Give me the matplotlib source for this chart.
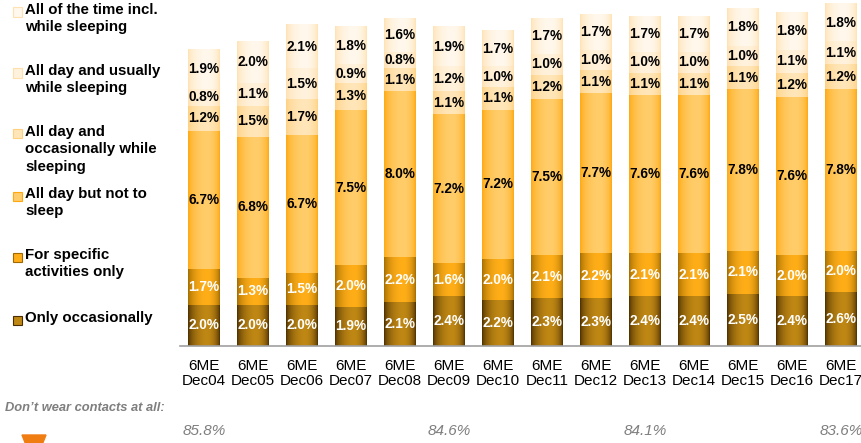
import matplotlib.pyplot as plt
import matplotlib.colors as mcolors
from matplotlib.patches import Rectangle, Polygon
import numpy as np

# data
periods = ['Dec04', 'Dec05', 'Dec06', 'Dec07', 'Dec08', 'Dec09', 'Dec10',
           'Dec11', 'Dec12', 'Dec13', 'Dec14', 'Dec15', 'Dec16', 'Dec17']
tick_labels = ['6ME\n' + p for p in periods]

only_occasionally = [2.0, 2.0, 2.0, 1.9, 2.1, 2.4, 2.2, 2.3, 2.3, 2.4, 2.4, 2.5, 2.4, 2.6]
specific_activities = [1.7, 1.3, 1.5, 2.0, 2.2, 1.6, 2.0, 2.1, 2.2, 2.1, 2.1, 2.1, 2.0, 2.0]
all_day_not_sleep = [6.7, 6.8, 6.7, 7.5, 8.0, 7.2, 7.2, 7.5, 7.7, 7.6, 7.6, 7.8, 7.6, 7.8]
all_day_occ_sleep = [1.2, 1.5, 1.7, 1.3, 1.1, 1.1, 1.1, 1.2, 1.1, 1.1, 1.1, 1.1, 1.2, 1.2]
all_day_usually_sleep = [0.8, 1.1, 1.5, 0.9, 0.8, 1.2, 1.0, 1.0, 1.0, 1.0, 1.0, 1.0, 1.1, 1.1]
all_the_time = [1.9, 2.0, 2.1, 1.8, 1.6, 1.9, 1.7, 1.7, 1.7, 1.7, 1.7, 1.8, 1.8, 1.8]

series_names = ['Only occasionally', 'For specific\nactivities only', 'All day but not to\nsleep',
                'All day and\noccasionally while\nsleeping', 'All day and usually\nwhile sleeping',
                'All of the time incl.\nwhile sleeping']

no_contacts_pos = [0, 5, 9, 13]
no_contacts_vals = ['85.8%', '84.6%', '84.1%', '83.6%']

# edge colour / middle colour of each gradient, bottom series first
grad = [('#4a2e00', '#bf8714'),
        ('#a06a00', '#ffae18'),
        ('#ffa810', '#ffcd6a'),
        ('#ffd080', '#ffe6b8'),
        ('#ffdfae', '#fff2dc'),
        ('#ffe2b4', '#fff8ec')]
txt_col = ['white', 'white', 'black', 'black', 'black', 'black']

data = [only_occasionally, specific_activities, all_day_not_sleep,
        all_day_occ_sleep, all_day_usually_sleep, all_the_time]

plt.rcParams['font.family'] = ['Liberation Sans', 'DejaVu Sans']

fig = plt.figure(figsize=(8.62, 4.43), dpi=100)
ax = fig.add_axes([180 / 862, 97 / 443, 682 / 862, 346 / 443])

x = np.arange(len(periods))
w = 0.65
t = np.linspace(0, 1, 64)
prof = np.where(t < 0.6, np.sin(np.pi * t / 1.2), np.sin(np.pi * (1 - t) / 0.8)) ** 0.6

bottom = np.zeros(len(periods))
for k, vals in enumerate(data):
    vals = np.array(vals)
    bars = ax.bar(x, vals, w, bottom=bottom, color=grad[k][1], linewidth=0, zorder=2)
    c0 = np.array(mcolors.to_rgb(grad[k][0]))
    c1 = np.array(mcolors.to_rgb(grad[k][1]))
    img = (c0[None, :] + (c1 - c0)[None, :] * prof[:, None])[None, :, :]
    # paint the horizontal gradient over each bar segment
    for b in bars:
        ax.imshow(img, extent=[b.get_x(), b.get_x() + b.get_width(),
                               b.get_y(), b.get_y() + b.get_height()],
                  aspect='auto', zorder=3, interpolation='bilinear')
    for xi, v, b0 in zip(x, vals, bottom):
        ax.text(xi, b0 + v / 2, f'{v:.1f}%', ha='center', va='center',
                fontsize=9.8, fontweight='bold', color=txt_col[k], zorder=4)
    bottom += vals

ax.set_xlim(-0.49, 13.43)
ax.set_ylim(0, 16.7)
ax.set_aspect('auto')
for s in ['top', 'right', 'left']:
    ax.spines[s].set_visible(False)
ax.spines['bottom'].set_color('#a0a0a0')
ax.spines['bottom'].set_linewidth(1.2)
ax.spines['bottom'].set_zorder(5)
ax.set_yticks([])
ax.set_xticks(x)
ax.set_xticklabels(tick_labels, fontsize=11, linespacing=1.15)
ax.tick_params(axis='x', length=0, pad=9)

# legend on the left
leg_y = [320, 257, 196, 134, 73, 12]
for k, name in enumerate(series_names):
    yy = 1 - leg_y[k] / 443
    fig.patches.append(Rectangle((13 / 862, yy - 4.5 / 443), 9 / 862, 9 / 443,
                                 transform=fig.transFigure, color=grad[k][1], ec=grad[k][0], lw=0.8))
    fig.text(25 / 862, yy + 9 / 443, name, ha='left', va='top', fontsize=10.8,
             fontweight='bold', linespacing=1.3)

fig.text(5 / 862, 1 - 408 / 443, 'Don\u2019t wear contacts at all:', ha='left', va='center',
         fontsize=9.3, fontweight='bold', style='italic', color='#7f7f7f')
for p, v in zip(no_contacts_pos, no_contacts_vals):
    xf = (180 + (p + 0.49) / 13.92 * 682) / 862
    fig.text(xf, 1 - 431 / 443, v, ha='center', va='center', fontsize=11, style='italic',
             color='#7f7f7f')

# partial logo cut by the bottom edge
fig.patches.append(Polygon([(22 / 862, 8 / 443), (46 / 862, 8 / 443), (42 / 862, -2 / 443), (26 / 862, -2 / 443)],
                           transform=fig.transFigure, color='#f07d12'))

fig.savefig('out.png', dpi=100)
